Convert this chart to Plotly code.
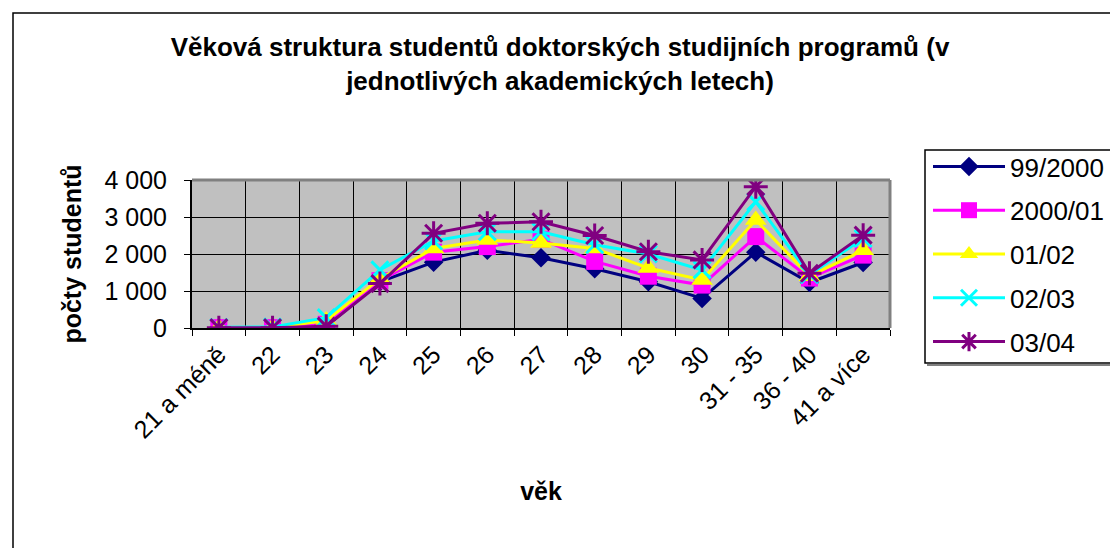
import plotly.graph_objects as go

categories = ["21 a méně", "22", "23", "24", "25", "26", "27", "28", "29", "30",
              "31 - 35", "36 - 40", "41 a více"]
s_99_2000 = [10, 10, 50, 1250, 1780, 2100, 1900, 1600, 1250, 800, 2050, 1230, 1770]
s_2000_01 = [10, 10, 100, 1280, 2050, 2200, 2400, 1800, 1400, 1160, 2470, 1350, 1970]
s_01_02 = [10, 10, 200, 1330, 2150, 2380, 2300, 2150, 1620, 1300, 2920, 1400, 2100]
s_02_03 = [20, 30, 280, 1570, 2350, 2600, 2600, 2250, 2000, 1570, 3410, 1440, 2420]
s_03_04 = [10, 10, 50, 1200, 2560, 2830, 2870, 2500, 2060, 1840, 3820, 1480, 2510]
series_names = ["99/2000", "2000/01", "01/02", "02/03", "03/04"]
series_values = [s_99_2000, s_2000_01, s_01_02, s_02_03, s_03_04]

colors = ["#000080", "#FF00FF", "#FFFF00", "#00FFFF", "#800080"]
symbols = ["diamond", "square", "triangle-up", "x-thin-open", "asterisk-open"]
sizes = [15, 17, 19, 17, 20]

FONT = "Liberation Sans, Arial, sans-serif"
OFF = 8  # page body margin
W, H = 1118 - OFF, 548 - OFF
L, T = 192 - OFF, 180 - OFF
PW, PH = 698, 148
R, B = W - L - PW, H - T - PH

def px(xp):  # page x -> paper
    return (xp - OFF - L) / PW

def py(yp):  # page y -> paper
    return (T + PH - (yp - OFF)) / PH

fig = go.Figure()
for i, (name, vals) in enumerate(zip(series_names, series_values)):
    fig.add_trace(go.Scatter(
        x=categories, y=vals, name=name, mode="lines+markers",
        legendgroup=name,
        line=dict(color=colors[i], width=3),
        marker=dict(symbol=symbols[i], size=sizes[i], color=colors[i],
                    line=dict(color=colors[i], width=3 if i >= 3 else 0)),
    ))

fig.update_layout(
    width=W, height=H,
    margin=dict(l=L, r=R, t=T, b=B, autoexpand=False),
    paper_bgcolor="white",
    plot_bgcolor="#C0C0C0",
    separators=", ",
    font=dict(family=FONT, size=25, color="black"),
    title=dict(
        text="Věková struktura studentů doktorských studijních programů (v<br>jednotlivých akademických letech)",
        font=dict(family=FONT, size=26, weight="bold", color="black"),
        x=(560 - OFF) / W, xref="container", xanchor="center",
        y=1 - (56 - OFF) / H, yref="container", yanchor="top",
    ),
    xaxis=dict(
        type="category", range=[-0.5, 12.5],
        tickson="boundaries", ticks="outside", ticklen=6, tickcolor="black",
        showgrid=True, gridcolor="black", gridwidth=1,
        showline=True, linecolor="black", linewidth=2,
        tickangle=-45, tickfont=dict(size=25),
        title=dict(text="věk", font=dict(size=25, weight="bold"), standoff=40),
        automargin=False,
    ),
    yaxis=dict(
        range=[0, 4000], dtick=1000, tickformat=",d",
        ticks="outside", ticklen=6, tickcolor="black",
        showgrid=True, gridcolor="black", gridwidth=1,
        showline=True, linecolor="black", linewidth=2,
        zeroline=False, tickfont=dict(size=25), ticklabelstandoff=12,
        title=dict(text="počty studentů", font=dict(size=25, weight="bold"), standoff=16),
        automargin=False,
    ),
    legend=dict(
        x=px(928), xanchor="left", y=py(143), yanchor="top",
        bgcolor="rgba(0,0,0,0)", borderwidth=0,
        font=dict(size=26), tracegroupgap=7, itemwidth=72,
    ),
    showlegend=True,
)

shapes = [
    # outer chart frame
    dict(type="rect", xref="paper", yref="paper", x0=px(13), x1=px(1140),
         y0=py(570), y1=py(13), line=dict(color="black", width=1.5)),
    # plot area frame (grey top/right)
    dict(type="line", xref="paper", yref="paper", x0=0, x1=1, y0=1, y1=1,
         line=dict(color="#808080", width=3)),
    dict(type="line", xref="paper", yref="paper", x0=1, x1=1, y0=0, y1=1,
         line=dict(color="#808080", width=3)),
    # legend box and shadow
    dict(type="rect", xref="paper", yref="paper", x0=px(925), x1=px(1140),
         y0=py(363), y1=py(150), line=dict(color="black", width=1.5)),
    dict(type="line", xref="paper", yref="paper", x0=px(927), x1=px(1140),
         y0=py(365), y1=py(365), line=dict(color="#808080", width=2)),
]
fig.update_layout(shapes=shapes)

fig.write_html("out.html")
